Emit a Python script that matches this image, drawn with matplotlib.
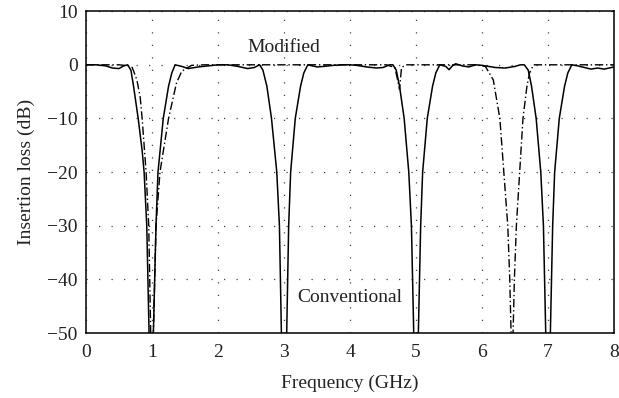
import matplotlib.pyplot as plt

# Conventional filter (solid line)
conv_freq = [0.0, 0.15, 0.3, 0.4, 0.5, 0.57, 0.63, 0.68, 0.72, 0.79, 0.85, 0.88, 0.92, 0.955, 1.0,
             1.02, 1.06, 1.09, 1.17, 1.25, 1.3, 1.35, 1.45, 1.55, 1.7, 1.85, 2.0, 2.15, 2.3, 2.45, 2.55, 2.63,
             2.68, 2.74, 2.81, 2.89, 2.93, 2.96, 3.0, 3.04, 3.07, 3.1, 3.17, 3.25, 3.3, 3.36,
             3.5, 3.6, 3.75, 3.9, 4.0, 4.1, 4.25, 4.4, 4.5, 4.6, 4.65,
             4.7, 4.75, 4.82, 4.89, 4.93, 4.965, 5.0, 5.035, 5.07, 5.1, 5.17, 5.25, 5.3, 5.36,
             5.45, 5.5, 5.55, 5.6, 5.7, 5.8, 5.9, 6.0, 6.1, 6.2, 6.35, 6.5, 6.58, 6.64,
             6.7, 6.75, 6.82, 6.89, 6.93, 6.965, 7.0, 7.035, 7.07, 7.1, 7.17, 7.25, 7.3, 7.36,
             7.45, 7.55, 7.65, 7.75, 7.85, 8.0]
conv_db = [0.0, 0.0, -0.2, -0.6, -0.7, -0.2, 0.0, -1.0, -4.0, -10.0, -16.0, -20.0, -30.0, -50.0, -65.0,
           -50.0, -30.0, -20.0, -10.0, -4.0, -1.5, 0.0, -0.3, -0.7, -0.4, -0.2, 0.0, 0.0, -0.3, -0.7, -0.5, 0.0,
           -1.0, -4.0, -10.0, -20.0, -30.0, -50.0, -65.0, -50.0, -30.0, -20.0, -10.0, -4.0, -1.5, 0.0,
           -0.4, -0.3, -0.1, 0.0, 0.0, -0.1, -0.4, -0.6, -0.5, 0.0, 0.0,
           -1.0, -4.0, -10.0, -20.0, -30.0, -50.0, -65.0, -50.0, -30.0, -20.0, -10.0, -4.0, -1.5, 0.0,
           -0.3, -0.9, -0.2, 0.2, -0.2, -0.4, 0.0, -0.1, -0.3, -0.5, -0.6, -0.3, 0.0, 0.0,
           -1.0, -4.0, -10.0, -20.0, -30.0, -50.0, -65.0, -50.0, -30.0, -20.0, -10.0, -4.0, -1.5, 0.0,
           -0.2, -0.5, -0.8, -0.6, -0.8, -0.4]

# Modified filter (dash-dot line)
mod_freq = [0.0, 0.5, 0.65, 0.7, 0.77, 0.82, 0.85, 0.91, 0.95, 0.98, 1.0,
            1.02, 1.06, 1.12, 1.25, 1.37, 1.45, 1.53, 1.6, 1.8,
            4.55, 4.68, 4.72, 4.75, 4.78, 4.85,
            5.9, 6.05, 6.17, 6.27, 6.33, 6.39, 6.42, 6.44, 6.455,
            6.47, 6.49, 6.52, 6.57, 6.62, 6.68, 6.72, 6.78, 8.0]
mod_db = [0.0, 0.0, -0.2, -0.5, -2.8, -6.0, -10.0, -20.0, -30.0, -50.0, -65.0,
          -50.0, -30.0, -20.0, -10.0, -3.4, -1.2, -0.6, -0.1, 0.0,
          0.0, -0.5, -2.8, -4.6, -0.5, 0.0,
          0.0, -0.3, -2.8, -10.0, -20.0, -30.0, -40.0, -50.0, -65.0,
          -50.0, -40.0, -30.0, -20.0, -10.0, -4.0, -1.5, 0.0, 0.0]

x_ticks = [0, 1, 2, 3, 4, 5, 6, 7, 8]
y_ticks = [10, 0, -10, -20, -30, -40, -50]

plt.rcParams['font.family'] = ['Liberation Serif', 'DejaVu Serif']

fs = 14
fig = plt.figure(figsize=(6.19, 3.98), dpi=100)
ax = fig.add_axes([0.139, 0.163, 0.853, 0.809])

ax.plot(conv_freq, conv_db, color='black', lw=1.1, solid_joinstyle='round')
ax.plot(mod_freq, mod_db, color='black', lw=1.0, linestyle=(0, (6, 2, 1, 2)))

ax.set_xlim(0, 8)
ax.set_ylim(-50, 10)
ax.set_xticks(x_ticks)
ax.set_yticks(y_ticks)
ax.set_yticklabels([str(v).replace('-', '\u2212') for v in y_ticks])
ax.tick_params(length=0, labelsize=fs, colors='#222222')
ax.tick_params(axis='x', pad=8)
ax.tick_params(axis='y', pad=6)
ax.grid(True, color='#444444', linestyle=(0, (1, 9)), lw=0.9)
for s in ax.spines.values():
    s.set_linewidth(1.1)

ax.set_xlabel('Frequency (GHz)', fontsize=fs, labelpad=10, color='#222222')
ax.set_ylabel('Insertion loss (dB)', fontsize=fs, labelpad=9, color='#222222')

ax.text(3.0, 3.3, 'Modified', fontsize=fs, ha='center', va='center', color='#222222')
ax.text(4.0, -43.4, 'Conventional', fontsize=fs, ha='center', va='center', color='#222222')

fig.savefig('out.png', dpi=100)
